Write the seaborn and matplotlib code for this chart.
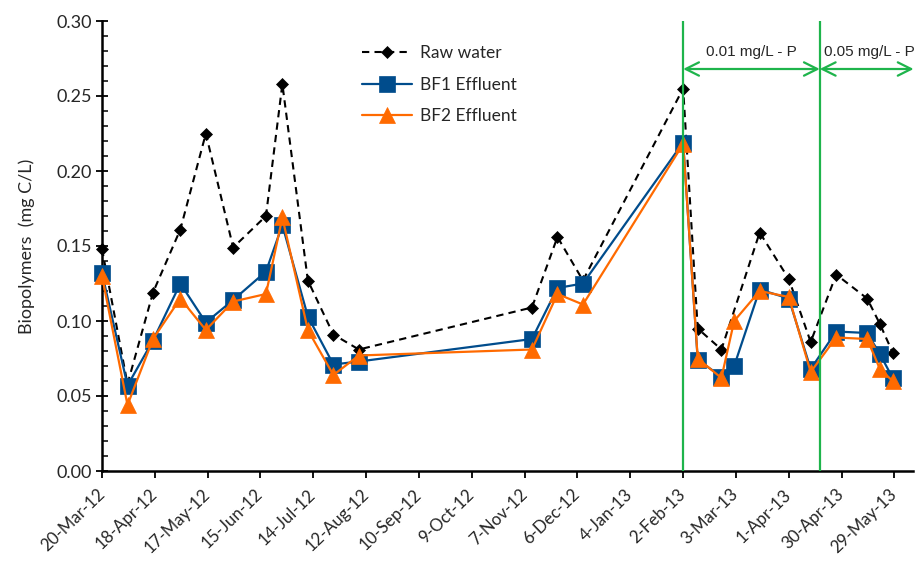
import matplotlib
matplotlib.use("Agg")
import matplotlib.pyplot as plt
import matplotlib.dates as mdates
from matplotlib.ticker import MultipleLocator, FormatStrFormatter
import seaborn as sns
import pandas as pd

# ---------------- data ----------------
raw_dates = ["2012-03-20", "2012-04-03", "2012-04-17", "2012-05-02", "2012-05-16",
             "2012-05-31", "2012-06-18", "2012-06-27", "2012-07-11", "2012-07-25",
             "2012-08-08", "2012-11-11", "2012-11-25", "2012-12-09", "2013-02-02",
             "2013-02-10", "2013-02-23", "2013-03-16", "2013-04-01", "2013-04-13",
             "2013-04-27", "2013-05-14", "2013-05-21", "2013-05-28"]
raw_water = [0.148, 0.058, 0.119, 0.161, 0.225, 0.149, 0.170, 0.258, 0.127, 0.091,
             0.081, 0.109, 0.156, 0.127, 0.255, 0.095, 0.081, 0.159, 0.128, 0.086,
             0.131, 0.115, 0.098, 0.079]

bf_dates = ["2012-03-20", "2012-04-03", "2012-04-17", "2012-05-02", "2012-05-16",
            "2012-05-31", "2012-06-18", "2012-06-27", "2012-07-11", "2012-07-25",
            "2012-08-08", "2012-11-11", "2012-11-25", "2012-12-09", "2013-02-02",
            "2013-02-10", "2013-02-23", "2013-03-02", "2013-03-16", "2013-04-01",
            "2013-04-13", "2013-04-27", "2013-05-14", "2013-05-21", "2013-05-28"]
bf1_effluent = [0.132, 0.057, 0.087, 0.125, 0.099, 0.114, 0.133, 0.164, 0.103, 0.071,
                0.073, 0.088, 0.122, 0.125, 0.219, 0.074, 0.063, 0.070, 0.121, 0.115,
                0.068, 0.093, 0.092, 0.078, 0.062]
bf2_effluent = [0.130, 0.044, 0.088, 0.115, 0.094, 0.113, 0.118, 0.169, 0.094, 0.064,
                0.077, 0.081, 0.118, 0.111, 0.218, 0.075, 0.062, 0.100, 0.120, 0.116,
                0.066, 0.089, 0.088, 0.068, 0.060]

series_labels = ["Raw water", "BF1 Effluent", "BF2 Effluent"]
phase_starts = ["2013-02-02", "2013-04-18"]
phase_labels = ["0.01 mg/L - P", "0.05 mg/L - P"]
x_start, x_end = "2012-03-20", "2013-06-08"
y_label = "Biopolymers  (mg C/L)"

# ---------------- style ----------------
sns.set_theme(style="white")
plt.rcParams["font.family"] = ["Lato", "DejaVu Sans"]

BLACK = "#000000"
BLUE = "#004C8C"
ORANGE = "#FF6A00"
GREEN = "#1EB44B"

fig = plt.figure(figsize=(9.2, 5.62), dpi=100)
ax = fig.add_axes([102 / 920, 1 - 471 / 562, (912.7 - 102) / 920, 450 / 562])

raw_df = pd.DataFrame({"date": pd.to_datetime(raw_dates), "value": raw_water})
bf_df = pd.DataFrame({"date": pd.to_datetime(bf_dates),
                      "bf1": bf1_effluent, "bf2": bf2_effluent})

sns.lineplot(data=raw_df, x="date", y="value", ax=ax, color=BLACK, lw=1.5,
             linestyle=(0, (3.5, 2.5)), marker="D", markersize=6.5,
             markeredgecolor=BLACK, markeredgewidth=0.5, label=series_labels[0],
             zorder=3, clip_on=False)
sns.lineplot(data=bf_df, x="date", y="bf1", ax=ax, color=BLUE, lw=1.6,
             marker="s", markersize=11, markeredgecolor=BLUE, markeredgewidth=0.5,
             label=series_labels[1], zorder=4, clip_on=False)
sns.lineplot(data=bf_df, x="date", y="bf2", ax=ax, color=ORANGE, lw=1.6,
             marker="^", markersize=12, markeredgecolor=ORANGE, markeredgewidth=0.5,
             label=series_labels[2], zorder=5, clip_on=False)

# phase lines and arrows
p0 = mdates.date2num(pd.Timestamp(phase_starts[0]))
p1 = mdates.date2num(pd.Timestamp(phase_starts[1]))
xe = mdates.date2num(pd.Timestamp(x_end))
for p in (p0, p1):
    ax.axvline(p, color=GREEN, lw=1.6, zorder=6)

arrow_y = 0.268
for a, b in ((p0, p1), (p1, xe + 0.5)):
    ax.annotate("", xy=(a, arrow_y), xytext=(b, arrow_y),
                arrowprops=dict(arrowstyle="<->", color=GREEN, lw=1.6,
                                mutation_scale=24, shrinkA=0, shrinkB=0),
                annotation_clip=False, zorder=6)
ax.text((p0 + p1) / 2, 0.2795, phase_labels[0], ha="center", va="center",
        fontsize=11, family=["Liberation Sans", "DejaVu Sans"])
ax.text(p1 + 2.5, 0.2795, phase_labels[1], ha="left", va="center",
        fontsize=11, family=["Liberation Sans", "DejaVu Sans"], clip_on=False)

# axes
ax.set_xlim(pd.Timestamp(x_start), pd.Timestamp(x_end))
ax.set_ylim(0, 0.30)
ticks = pd.date_range(x_start, periods=16, freq="29D")
ax.set_xticks(ticks)
ax.xaxis.set_major_formatter(mdates.DateFormatter("%-d-%b-%y"))
ax.yaxis.set_major_locator(MultipleLocator(0.05))
ax.yaxis.set_minor_locator(MultipleLocator(0.01))
ax.yaxis.set_major_formatter(FormatStrFormatter("%.2f"))

ax.tick_params(axis="x", which="major", direction="out", length=5, width=1.3,
               color=BLACK, labelsize=12.2, pad=10, bottom=True)
ax.tick_params(axis="y", which="major", direction="inout", length=9, width=1.3,
               color=BLACK, labelsize=13, pad=3, left=True)
ax.tick_params(axis="y", which="minor", direction="in", length=4, width=1.1,
               color=BLACK, left=True)
for lbl in ax.get_xticklabels():
    lbl.set_rotation(44)
    lbl.set_ha("right")
    lbl.set_rotation_mode("anchor")
    lbl.set_va("center")

for s in ("top", "right"):
    ax.spines[s].set_visible(False)
for s in ("left", "bottom"):
    ax.spines[s].set_color(BLACK)
    ax.spines[s].set_linewidth(1.8)
    ax.spines[s].set_zorder(2.5)

ax.set_xlabel("")
ax.set_ylabel(y_label, fontsize=13, labelpad=15)

leg = ax.legend(loc="upper left", bbox_to_anchor=(0.312, 0.962), frameon=False,
                fontsize=12.5, handlelength=2.9, handletextpad=0.45,
                labelspacing=0.9, borderaxespad=0)

fig.savefig("out.png", dpi=100)
